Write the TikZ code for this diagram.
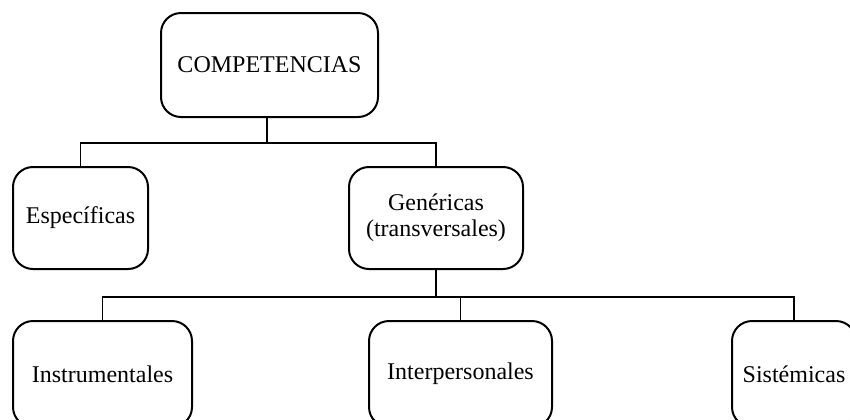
\documentclass[tikz,border=0pt]{standalone}
\usepackage{fontspec}
\setmainfont{Liberation Serif}
\usepackage{tikz}

\tikzset{
  caja/.style={draw, line width=1pt, rounded corners=10pt, align=center,
    font=\fontsize{12}{13}\selectfont, inner sep=0pt},
  linea/.style={line width=0.8pt}
}

\begin{document}
\begin{tikzpicture}[x=0.5pt,y=-0.5pt]
\useasboundingbox (0,0) rectangle (850,419);
\clip (0,0) rectangle (850,419);
\node[caja, minimum width=108.5pt, minimum height=52pt] (comp) at (269.5,65) {COMPETENCIAS};
\node[caja, minimum width=67.5pt, minimum height=51pt] (esp) at (80.5,218) {Específicas};
\node[caja, minimum width=87pt, minimum height=51pt] (gen) at (436,218) {Genéricas\\(transversales)};
\node[caja, minimum width=89.5pt, minimum height=53pt] (ins) at (102.5,374) {Instrumentales};
\node[caja, minimum width=91.5pt, minimum height=53pt] (inter) at (460.5,374) {Interpersonales};
\node[caja, minimum width=62pt, minimum height=53pt] (sis) at (794,374) {Sistémicas};
\coordinate (r1) at (267,143);
\coordinate (r2) at (436,297);
\draw[linea] (r1 |- comp.south) -- (r1);
\draw[linea] (r1) -| (esp.north);
\draw[linea] (r1) -| (gen.north);
\draw[linea] (gen.south) -- (r2);
\draw[linea] (r2) -| (ins.north);
\draw[linea] (r2) -| (inter.north);
\draw[linea] (r2) -| (sis.north);
\end{tikzpicture}
\end{document}
